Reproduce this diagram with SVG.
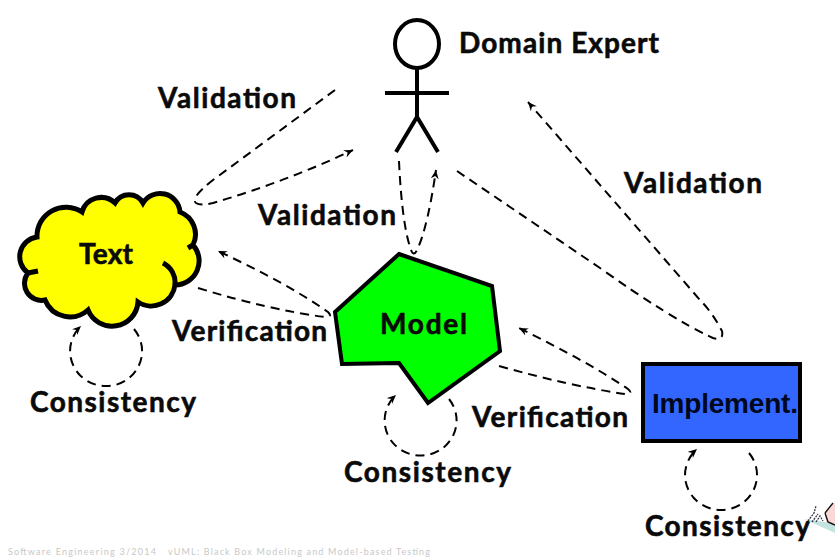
<svg xmlns="http://www.w3.org/2000/svg" width="835" height="558" viewBox="0 0 835 558">
<style>
.lb{font-family:"Lato","Open Sans","Liberation Sans",sans-serif;font-weight:700;font-size:28px;fill:#0a0a0a;stroke:#0a0a0a;stroke-width:.6}
.ln{fill:none;stroke:#000;stroke-width:2;stroke-dasharray:9 6}
.sh{stroke:#000;stroke-width:4;stroke-linejoin:miter}
.ar{marker-end:url(#a)}
.ft{font-family:"Lato","Liberation Sans",sans-serif;font-size:9px;fill:#c8c8c8}
</style>
<defs>
<marker id="a" markerUnits="userSpaceOnUse" markerWidth="12" markerHeight="10" refX="9" refY="4" orient="auto">
<path d="M0 0L9 4L0 8L3 4Z" fill="#000"/>
</marker>
</defs>
<rect width="835" height="558" fill="#fff"/>
<g id="connectors">
<path class="ln ar" d="M335 90L213 180Q190 198 196 203Q200 206 213 203Q285 182 353 150"/>
<path class="ln ar" d="M399 161Q402 225 411 250Q414 258 418 248Q428 225 436 170"/>
<path class="ln ar" d="M457 171L600 268Q670 318 713 338Q724 341 722 331Q712 312 700 300L528 102"/>
<path class="ln ar" d="M198 288Q270 310 325 317Q333 317 328 312Q290 285 218 251"/>
<path class="ln ar" d="M499 366Q570 386 625 394Q634 394 628 389Q590 363 519 328"/>
<path class="ln ar" d="M134 329A36 35 0 1 1 81 326"/>
<path class="ln ar" d="M449 399A36 35 0 1 1 396 395"/>
<path class="ln ar" d="M749 453A36 35 0 1 1 697 449"/>
</g>
<g id="actor">
<ellipse cx="417" cy="44" rx="22" ry="24" fill="#fff" class="sh"/>
<path d="M417 68V117M385 93H449M396 152L417 117L438 152" fill="none" class="sh"/>
<text class="lb" x="459" y="53" textLength="200" lengthAdjust="spacing">Domain Expert</text>
</g>
<g id="text-node">
<path class="sh" style="stroke-width:5" fill="#ffff00" d="M37 237A29 29 0 0 1 82 212A20 20 0 0 1 115 203A16 16 0 0 1 143 203A20 20 0 0 1 180 212A24 24 0 0 1 193 245A24 24 0 0 1 175 285A24 24 0 0 1 138 302A26 26 0 0 1 88 310A27 27 0 0 1 45 300A17 17 0 0 1 28 273A20 20 0 0 1 37 237Z"/>
<path class="sh" style="stroke-width:5" fill="none" d="M163 263A22 22 0 0 1 175 285M28 273L38 271M193 245L188 248"/>
<text class="lb" x="79" y="264" textLength="54" lengthAdjust="spacing">Text</text>
</g>
<g id="model-node">
<path class="sh" fill="#00ff00" d="M399 254L492 286L500 351L428 403L399 363L342 364L335 312Z"/>
<text class="lb" x="380" y="334" textLength="87" lengthAdjust="spacing">Model</text>
</g>
<g id="impl-node">
<rect class="sh" x="643" y="364" width="157" height="77" fill="#3366ff"/>
<text x="652" y="413" style="font-family:'Liberation Sans',Arial,sans-serif;font-weight:700;font-size:28px" fill="#000820" textLength="146" lengthAdjust="spacing">Implement.</text>
</g>
<g id="labels">
<text class="lb" x="158" y="108" textLength="138" lengthAdjust="spacing">Validation</text>
<text class="lb" x="258" y="225" textLength="138" lengthAdjust="spacing">Validation</text>
<text class="lb" x="624" y="193" textLength="138" lengthAdjust="spacing">Validation</text>
<text class="lb" x="172" y="341" textLength="155" lengthAdjust="spacing">Verification</text>
<text class="lb" x="472" y="427" textLength="156" lengthAdjust="spacing">Verification</text>
<text class="lb" x="30" y="412" textLength="166" lengthAdjust="spacing">Consistency</text>
<text class="lb" x="344" y="482" textLength="167" lengthAdjust="spacing">Consistency</text>
<text class="lb" x="645" y="536" textLength="165" lengthAdjust="spacing">Consistency</text>
</g>
<g id="sticker">
<path d="M804 519L825 522L835 524V533Z" fill="#c4e4df"/>
<path d="M825 514L835 502V525L826 522Z" fill="#fbd8d8"/>
<path d="M825 513L828 522L835 525M825 513L833 503" fill="none" stroke="#111" stroke-width="1.4"/>
<path d="M808 521L814 513L816 506M812 522L818 514M816 522L820 516L823 521" fill="none" stroke="#334" stroke-width="1.3" stroke-dasharray="2 1"/>
</g>
<g id="footer">
<text class="ft" x="8" y="555" textLength="148" lengthAdjust="spacing">Software Engineering 3/2014</text>
<text class="ft" x="168" y="555" textLength="262" lengthAdjust="spacing">vUML: Black Box Modeling and Model-based Testing</text>
</g>
</svg>
